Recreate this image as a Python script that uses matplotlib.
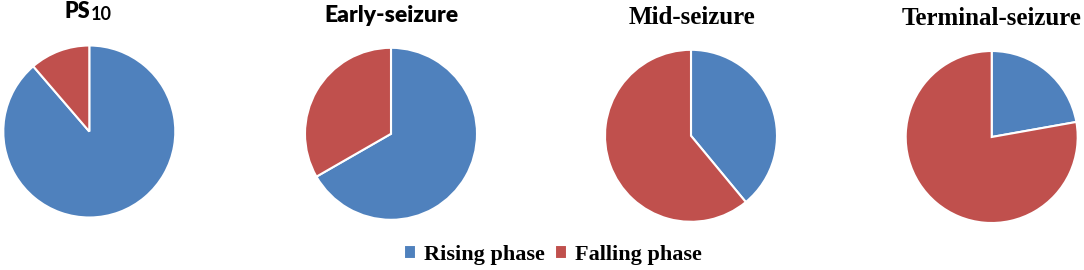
import matplotlib
matplotlib.use("Agg")
import matplotlib.pyplot as plt

# values (share of each phase, %)
stages = ["PS10", "Early-seizure", "Mid-seizure", "Terminal-seizure"]
rising = [88.7, 66.7, 39.0, 22.2]
falling = [11.3, 33.3, 61.0, 77.8]
phases = ["Rising phase", "Falling phase"]
colors = ["#4F81BD", "#C0504D"]

W, H = 1084, 270
fig = plt.figure(figsize=(W / 100, H / 100), dpi=100)

centers = [(89.3, 131.5), (391, 133.8), (691, 135.8), (991.7, 137)]
r = 86

wedges = None
for (cx, cy), up, down in zip(centers, rising, falling):
    ax = fig.add_axes([(cx - r) / W, (H - cy - r) / H, 2 * r / W, 2 * r / H])
    wedges, _ = ax.pie([up, down], colors=colors, startangle=90, counterclock=False,
                       radius=1.0, wedgeprops=dict(edgecolor="white", linewidth=1.5))
    ax.set_xlim(-1.0, 1.0)
    ax.set_ylim(-1.0, 1.0)
    ax.set_aspect("equal")
    ax.axis("off")

# titles
fig.text(90 / W, 1 - 18 / H, "PS", ha="right", va="baseline",
         fontsize=15.5, fontweight="heavy", family="Lato")
fig.text(90.5 / W, 1 - 19.5 / H, "10", ha="left", va="baseline",
         fontsize=13, fontweight="bold", family="Lato")
fig.text(391 / W, 1 - 22 / H, stages[1], ha="center", va="baseline",
         fontsize=16.5, fontweight="heavy", family="Lato")
fig.text(692 / W, 1 - 23.5 / H, stages[2], ha="center", va="baseline",
         fontsize=18, fontweight="bold", family="Liberation Serif")
fig.text(991.5 / W, 1 - 25 / H, stages[3], ha="center", va="baseline",
         fontsize=18, fontweight="bold", family="Liberation Serif")

fig.legend(wedges, phases, loc="center", bbox_to_anchor=(553 / W, 1 - 255 / H),
           ncol=2, frameon=False, handlelength=0.55, handleheight=0.55,
           handletextpad=0.35, columnspacing=0.45, borderpad=0,
           prop=dict(family="Liberation Serif", weight="bold", size=16))

fig.savefig("out.png", dpi=100)
